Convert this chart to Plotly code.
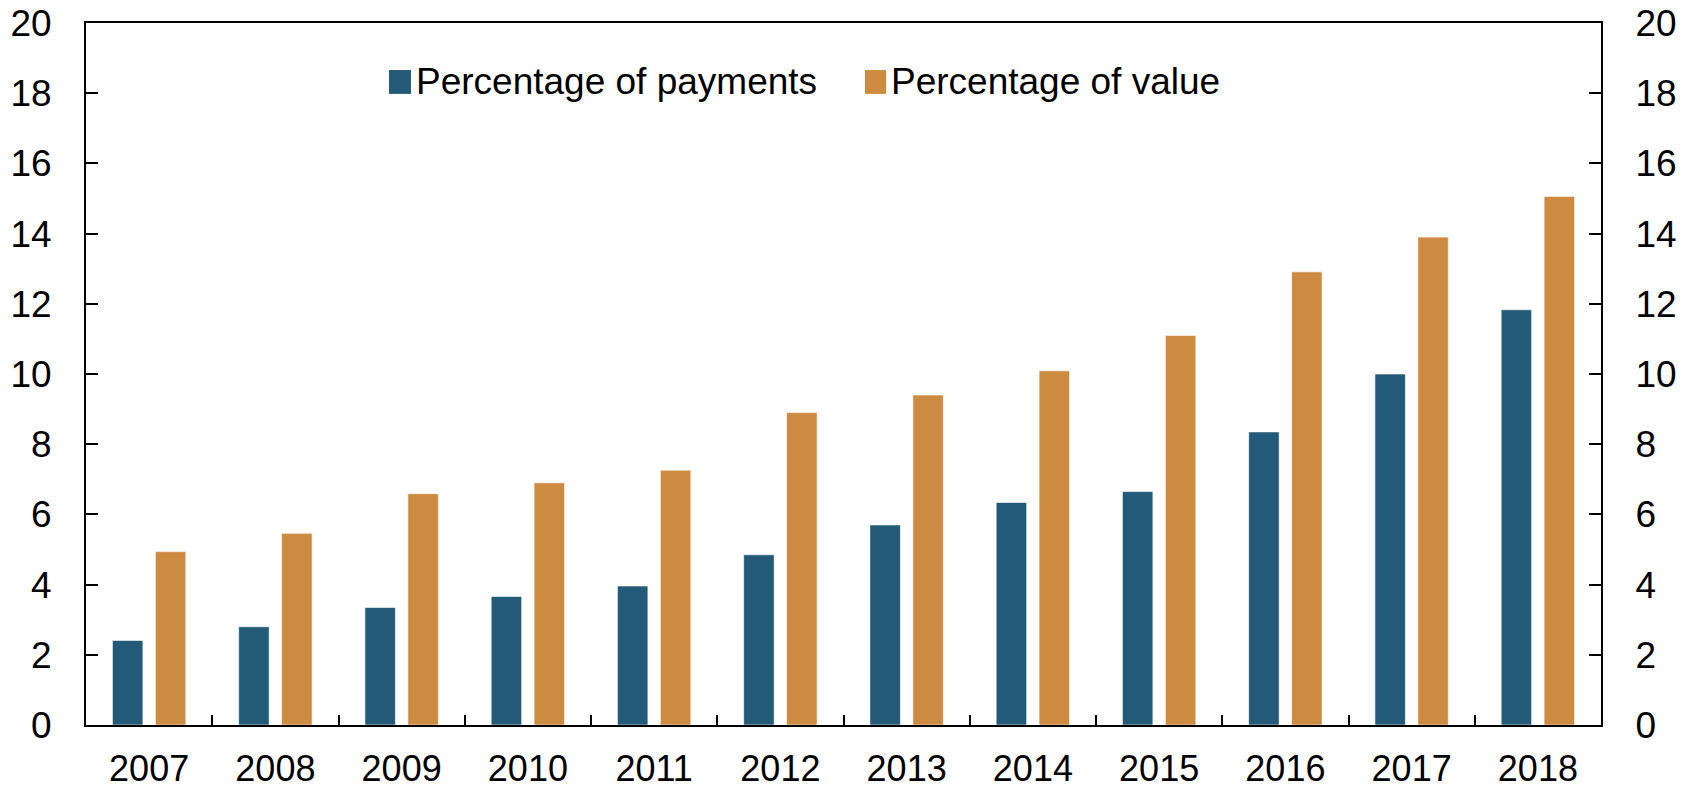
import plotly.graph_objects as go

years = ["2007", "2008", "2009", "2010", "2011", "2012", "2013", "2014", "2015", "2016", "2017", "2018"]
pct_payments = [2.41, 2.80, 3.35, 3.66, 3.96, 4.85, 5.70, 6.34, 6.65, 8.35, 10.0, 11.83]
pct_value = [4.94, 5.46, 6.59, 6.90, 7.26, 8.90, 9.40, 10.09, 11.10, 12.91, 13.90, 15.06]
series_names = ["Percentage of payments", "Percentage of value"]
colors = ["#235a78", "#cd8b42"]
y_ticks = [0, 2, 4, 6, 8, 10, 12, 14, 16, 18, 20]

FONT = "Liberation Sans, Arial, sans-serif"
FS = 37
FSX = 36

fig = go.Figure()
for name, vals, col in zip(series_names, [pct_payments, pct_value], colors):
    fig.add_trace(go.Bar(
        x=years, y=vals, name=name,
        marker=dict(color=col, line=dict(color="rgba(255,255,255,0.6)", width=1)),
        showlegend=False,
    ))
# invisible trace to anchor the right-hand axis
fig.add_trace(go.Scatter(x=years, y=pct_value, yaxis="y2", mode="markers",
                         marker=dict(opacity=0), showlegend=False, hoverinfo="skip"))

axis_common = dict(
    range=[0, 20], tickvals=y_ticks, ticks="inside", ticklen=12, tickwidth=2,
    tickcolor="black", showline=True, linecolor="black", linewidth=2,
    showgrid=False, zeroline=False, tickfont=dict(family=FONT, size=FS, color="black"),
    ticklabelstandoff=25, automargin=False, ticklabeloverflow="allow",
)

fig.update_layout(
    width=1682, height=788,
    margin=dict(l=86, r=81, t=23, b=63, autoexpand=False),
    paper_bgcolor="white", plot_bgcolor="white",
    barmode="group", bargap=0.32, bargroupgap=0.29,
    font=dict(family=FONT, size=FS, color="black"),
    xaxis=dict(
        type="category", range=[-0.5, len(years) - 0.5],
        ticks="inside", tickson="boundaries", ticklen=10, tickwidth=2,
        tickcolor="black", showline=True, linecolor="black", linewidth=2, mirror=True,
        showgrid=False, tickfont=dict(family=FONT, size=FSX, color="black"),
        ticklabelstandoff=11, automargin=False, ticklabeloverflow="allow",
    ),
    yaxis=dict(side="left", **axis_common),
    yaxis2=dict(side="right", overlaying="y", **axis_common),
    showlegend=False,
)

# legend drawn in paper coordinates
legend_items = [(0.2000, 0.2145, 0.2165), (0.5142, 0.5281, 0.5301)]
for (x0, x1, xt), name, col in zip(legend_items, series_names, colors):
    fig.add_shape(type="rect", xref="paper", yref="paper", x0=x0, x1=x1,
                  y0=0.899, y1=0.933, fillcolor=col, line=dict(width=0))
    fig.add_annotation(xref="paper", yref="paper", x=xt, y=0.916,
                       text=name, showarrow=False, xanchor="left", yanchor="middle",
                       font=dict(family=FONT, size=FS, color="black"))

fig.write_html("out.html", config={"displayModeBar": False},
               post_script="document.body.style.margin='0';document.body.style.overflow='hidden';")
